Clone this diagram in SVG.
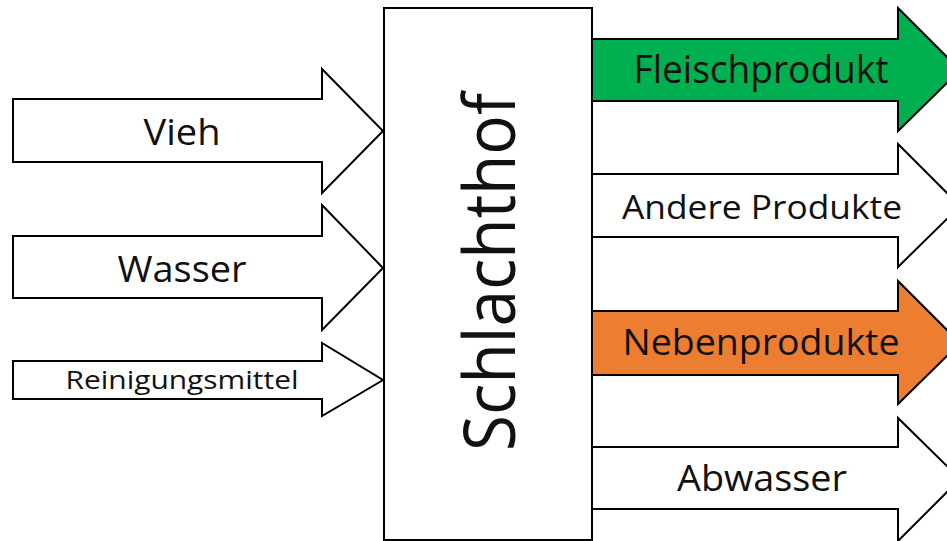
<svg xmlns="http://www.w3.org/2000/svg" width="947" height="541" viewBox="0 0 947 541">
<style>
.arr{stroke:#000;stroke-width:2;stroke-linejoin:miter}
.w{fill:#fff}
.g{fill:#00B050}
.o{fill:#ED7D31}
text{font-family:"Open Sans","DejaVu Sans",sans-serif;fill:#111;text-anchor:middle}
</style>
<rect width="947" height="541" fill="#fff"/>
<g id="connectors">
<g id="in-vieh"><polygon class="arr w" points="13,99 322,99 322,69 383,131 322,193 322,162 13,162"/><text x="182" y="145" font-size="36" textLength="77" lengthAdjust="spacingAndGlyphs">Vieh</text></g>
<g id="in-wasser"><polygon class="arr w" points="13,236 322,236 322,205 383,268 322,330 322,298 13,298"/><text x="182" y="282" font-size="36" textLength="129" lengthAdjust="spacingAndGlyphs">Wasser</text></g>
<g id="in-reinigungsmittel"><polygon class="arr w" points="13,361 322,361 322,343 383,380 322,416 322,399 13,399"/><text x="182" y="389" font-size="25" textLength="233" lengthAdjust="spacingAndGlyphs">Reinigungsmittel</text></g>
<g id="out-fleischprodukt"><polygon class="arr g" points="592,39 898,39 898,8 960,70 898,131 898,101 592,101"/><text x="761" y="83" font-size="38" textLength="255" lengthAdjust="spacingAndGlyphs">Fleischprodukt</text></g>
<g id="out-andere"><polygon class="arr w" points="592,174 898,174 898,144 960,206 898,267 898,237 592,237"/><text x="762" y="219" font-size="32" textLength="280" lengthAdjust="spacingAndGlyphs">Andere Produkte</text></g>
<g id="out-nebenprodukte"><polygon class="arr o" points="592,311 898,311 898,281 960,343 898,404 898,375 592,375"/><text x="761" y="355" font-size="36" textLength="277" lengthAdjust="spacingAndGlyphs">Nebenprodukte</text></g>
<g id="out-abwasser"><polygon class="arr w" points="592,447 898,447 898,418 960,479 898,541 898,509 592,509"/><text x="762" y="491" font-size="36" textLength="170" lengthAdjust="spacingAndGlyphs">Abwasser</text></g>
</g>
<g id="schlachthof">
<rect x="384" y="8" width="208" height="532" fill="#fff" stroke="#000" stroke-width="2"/>
<text transform="translate(515,272) rotate(-90)" x="0" y="0" font-size="72" textLength="358" lengthAdjust="spacingAndGlyphs">Schlachthof</text>
</g>
</svg>
